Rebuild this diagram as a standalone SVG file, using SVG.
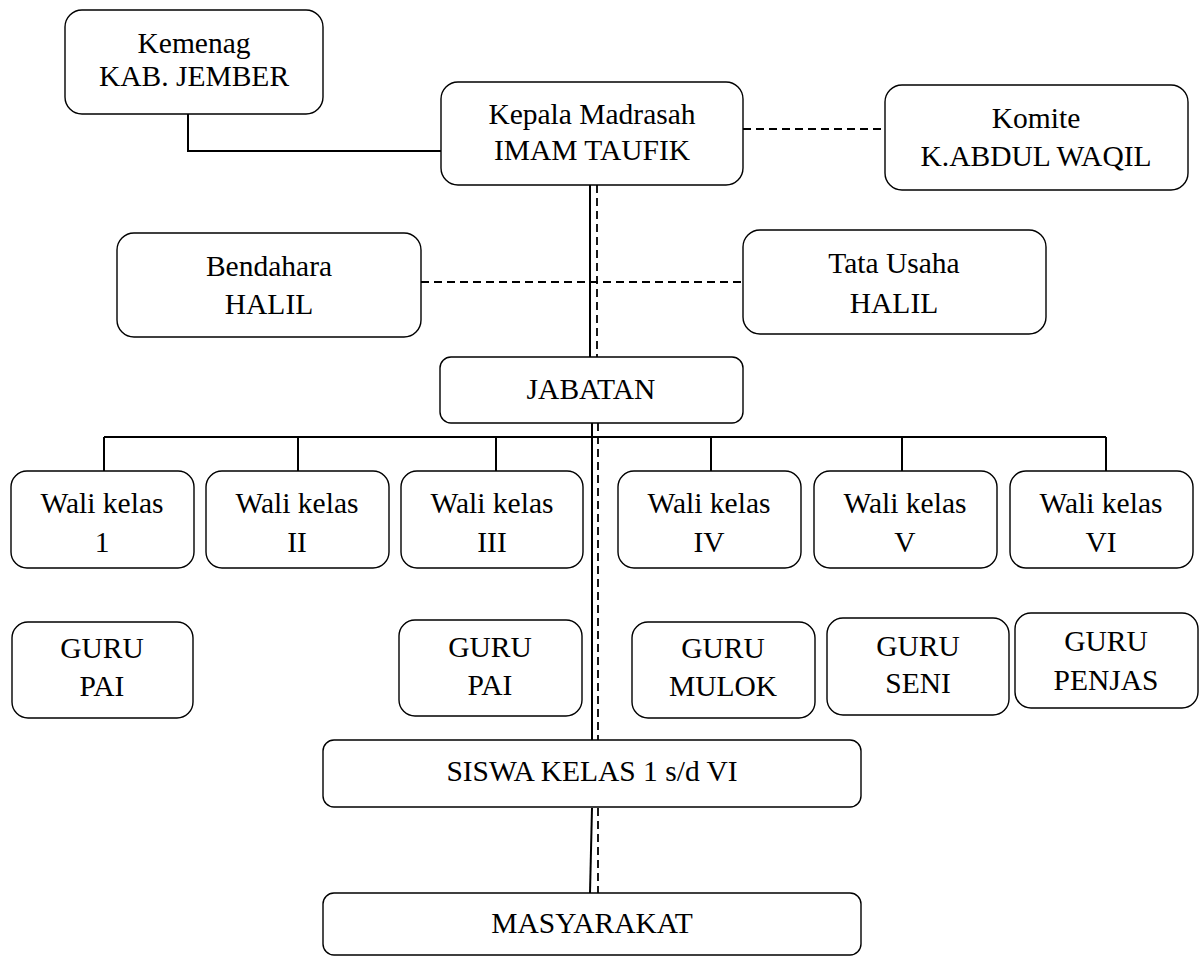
<svg xmlns="http://www.w3.org/2000/svg" width="1200" height="957" viewBox="0 0 1200 957">
<style>
.box{fill:#fff;stroke:#000;stroke-width:1.4}
.t{font-family:"Liberation Serif","Times New Roman",serif;font-size:29.5px;fill:#000;text-anchor:middle}
.ln{fill:none;stroke:#000;stroke-width:2}
.ds{fill:none;stroke:#000;stroke-width:1.8;stroke-dasharray:8 5}
</style>
<rect width="1200" height="957" fill="#fff"/>
<g id="connectors">
<path class="ln" d="M188,114 V151 H441"/>
<path class="ds" d="M743,129 H885"/>
<path class="ds" d="M421,282 H743"/>
<path class="ln" d="M590,185 V357"/>
<path class="ln" d="M592,423 V740"/>
<path class="ln" d="M592,808 L590,893"/>
<path class="ds" d="M597,185 V357"/>
<path class="ds" d="M598,423 V740"/>
<path class="ds" d="M598,808 V893"/>
<path class="ln" d="M104,437 H1106"/>
<path class="ln" d="M104,437 V471 M298,437 V471 M496,437 V471 M711,437 V471 M902,437 V471 M1106,437 V471"/>
</g>
<g id="kemenag"><rect class="box" x="65" y="10" width="258" height="104" rx="17"/><text class="t" x="194" y="53">Kemenag</text><text class="t" x="194" y="86">KAB. JEMBER</text></g>
<g id="kepala"><rect class="box" x="441" y="82" width="302" height="103" rx="17"/><text class="t" x="592" y="124">Kepala Madrasah</text><text class="t" x="592" y="160">IMAM TAUFIK</text></g>
<g id="komite"><rect class="box" x="885" y="85" width="303" height="105" rx="17"/><text class="t" x="1036" y="128">Komite</text><text class="t" x="1036" y="166">K.ABDUL WAQIL</text></g>
<g id="bendahara"><rect class="box" x="117" y="233" width="304" height="104" rx="17"/><text class="t" x="269" y="276">Bendahara</text><text class="t" x="269" y="314">HALIL</text></g>
<g id="tatausaha"><rect class="box" x="743" y="230" width="303" height="104" rx="17"/><text class="t" x="894" y="273">Tata Usaha</text><text class="t" x="894" y="313">HALIL</text></g>
<g id="jabatan"><rect class="box" x="440" y="357" width="303" height="66" rx="11"/><text class="t" x="591" y="399">JABATAN</text></g>
<g id="wali1"><rect class="box" x="11" y="471" width="183" height="97" rx="16"/><text class="t" x="102" y="513">Wali kelas</text><text class="t" x="102" y="552">1</text></g>
<g id="wali2"><rect class="box" x="206" y="471" width="183" height="97" rx="16"/><text class="t" x="297" y="513">Wali kelas</text><text class="t" x="297" y="552">II</text></g>
<g id="wali3"><rect class="box" x="401" y="471" width="182" height="97" rx="16"/><text class="t" x="492" y="513">Wali kelas</text><text class="t" x="492" y="552">III</text></g>
<g id="wali4"><rect class="box" x="618" y="471" width="183" height="97" rx="16"/><text class="t" x="709" y="513">Wali kelas</text><text class="t" x="709" y="552">IV</text></g>
<g id="wali5"><rect class="box" x="814" y="471" width="183" height="97" rx="16"/><text class="t" x="905" y="513">Wali kelas</text><text class="t" x="905" y="552">V</text></g>
<g id="wali6"><rect class="box" x="1010" y="471" width="183" height="97" rx="16"/><text class="t" x="1101" y="513">Wali kelas</text><text class="t" x="1101" y="552">VI</text></g>
<g id="gurupai1"><rect class="box" x="12" y="622" width="181" height="96" rx="16"/><text class="t" x="102" y="658">GURU</text><text class="t" x="102" y="696">PAI</text></g>
<g id="gurupai2"><rect class="box" x="399" y="620" width="183" height="96" rx="16"/><text class="t" x="490" y="657">GURU</text><text class="t" x="490" y="695">PAI</text></g>
<g id="gurumulok"><rect class="box" x="632" y="622" width="183" height="96" rx="16"/><text class="t" x="723" y="658">GURU</text><text class="t" x="723" y="696">MULOK</text></g>
<g id="guruseni"><rect class="box" x="827" y="618" width="182" height="97" rx="16"/><text class="t" x="918" y="656">GURU</text><text class="t" x="918" y="693">SENI</text></g>
<g id="gurupenjas"><rect class="box" x="1015" y="613" width="183" height="95" rx="16"/><text class="t" x="1106" y="651">GURU</text><text class="t" x="1106" y="690">PENJAS</text></g>
<g id="siswa"><rect class="box" x="323" y="740" width="538" height="67" rx="11"/><text class="t" x="592" y="781">SISWA KELAS 1 s/d VI</text></g>
<g id="masyarakat"><rect class="box" x="323" y="893" width="538" height="62" rx="11"/><text class="t" x="592" y="933">MASYARAKAT</text></g>
</svg>
